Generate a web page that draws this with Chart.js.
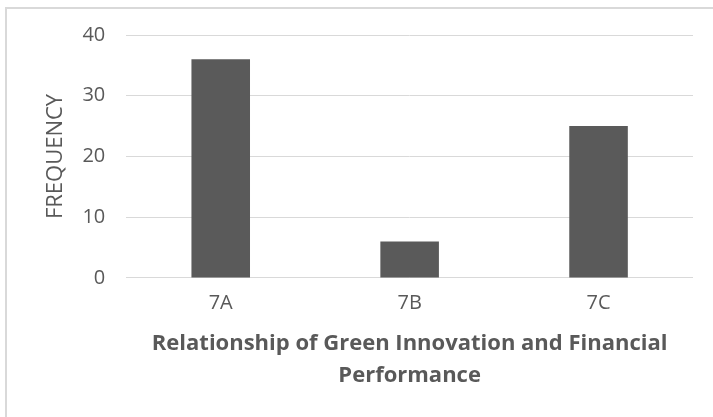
<!DOCTYPE html>
<html>
<head>
<meta charset="utf-8">
<script src="https://cdn.jsdelivr.net/npm/chart.js@4"></script>
<style>
  html, body { margin: 0; padding: 0; background: #fff; }
  #wrap { position: relative; width: 713px; height: 417px; overflow: hidden; }
  #frame { position: absolute; left: 5px; top: 7px; width: 760px; height: 460px;
           border-left: 2px solid #d9d9d9; border-top: 2px solid #d9d9d9; }
  #barChart { position: absolute; left: 0; top: 0; }
</style>
</head>
<body>
<div id="wrap">
  <div id="frame"></div>
  <canvas id="barChart" width="713" height="417"></canvas>
</div>
<script>
// chart data
var categories = ['7A', '7B', '7C'];
var frequency = [36, 6, 25];
var yTicks = [0, 10, 20, 30, 40];

var ctx = document.getElementById('barChart').getContext('2d');

var barChart = new Chart(ctx, {
    type: 'bar',
    data: {
        labels: categories,
        datasets: [
            {
                label: 'Frequency',
                data: frequency,
                backgroundColor: '#5a5a5a',
                barPercentage: 0.62,
                categoryPercentage: 0.5
            }
        ]
    },
    options: {
        responsive: false,
        animation: false,
        layout: {
            padding: { left: 43, right: 20, top: 35, bottom: 25 }
        },
        plugins: {
            legend: { display: false },
            tooltip: { enabled: false }
        },
        scales: {
            x: {
                grid: { display: false, drawTicks: false },
                border: { display: false },
                ticks: {
                    color: '#595959',
                    font: { family: 'Open Sans', size: 20 },
                    padding: 13
                },
                title: {
                    display: true,
                    text: ['Relationship of Green Innovation and Financial', 'Performance'],
                    color: '#595959',
                    font: { family: 'Open Sans', size: 22, weight: 'bold', lineHeight: 1.455 },
                    padding: { top: 0, bottom: 0 }
                }
            },
            y: {
                min: yTicks[0],
                max: yTicks[yTicks.length - 1],
                afterBuildTicks: function (axis) {
                    axis.ticks = yTicks.map(function (v) { return { value: v }; });
                },
                grid: { color: '#d9d9d9', lineWidth: 1, drawTicks: false },
                border: { display: false },
                ticks: {
                    color: '#595959',
                    font: { family: 'Open Sans', size: 20 },
                    padding: 21
                },
                title: {
                    display: true,
                    text: 'FREQUENCY',
                    color: '#595959',
                    font: { family: 'Open Sans', size: 22 },
                    padding: { top: 0, bottom: -8 }
                }
            }
        }
    }
});
</script>
</body>
</html>
